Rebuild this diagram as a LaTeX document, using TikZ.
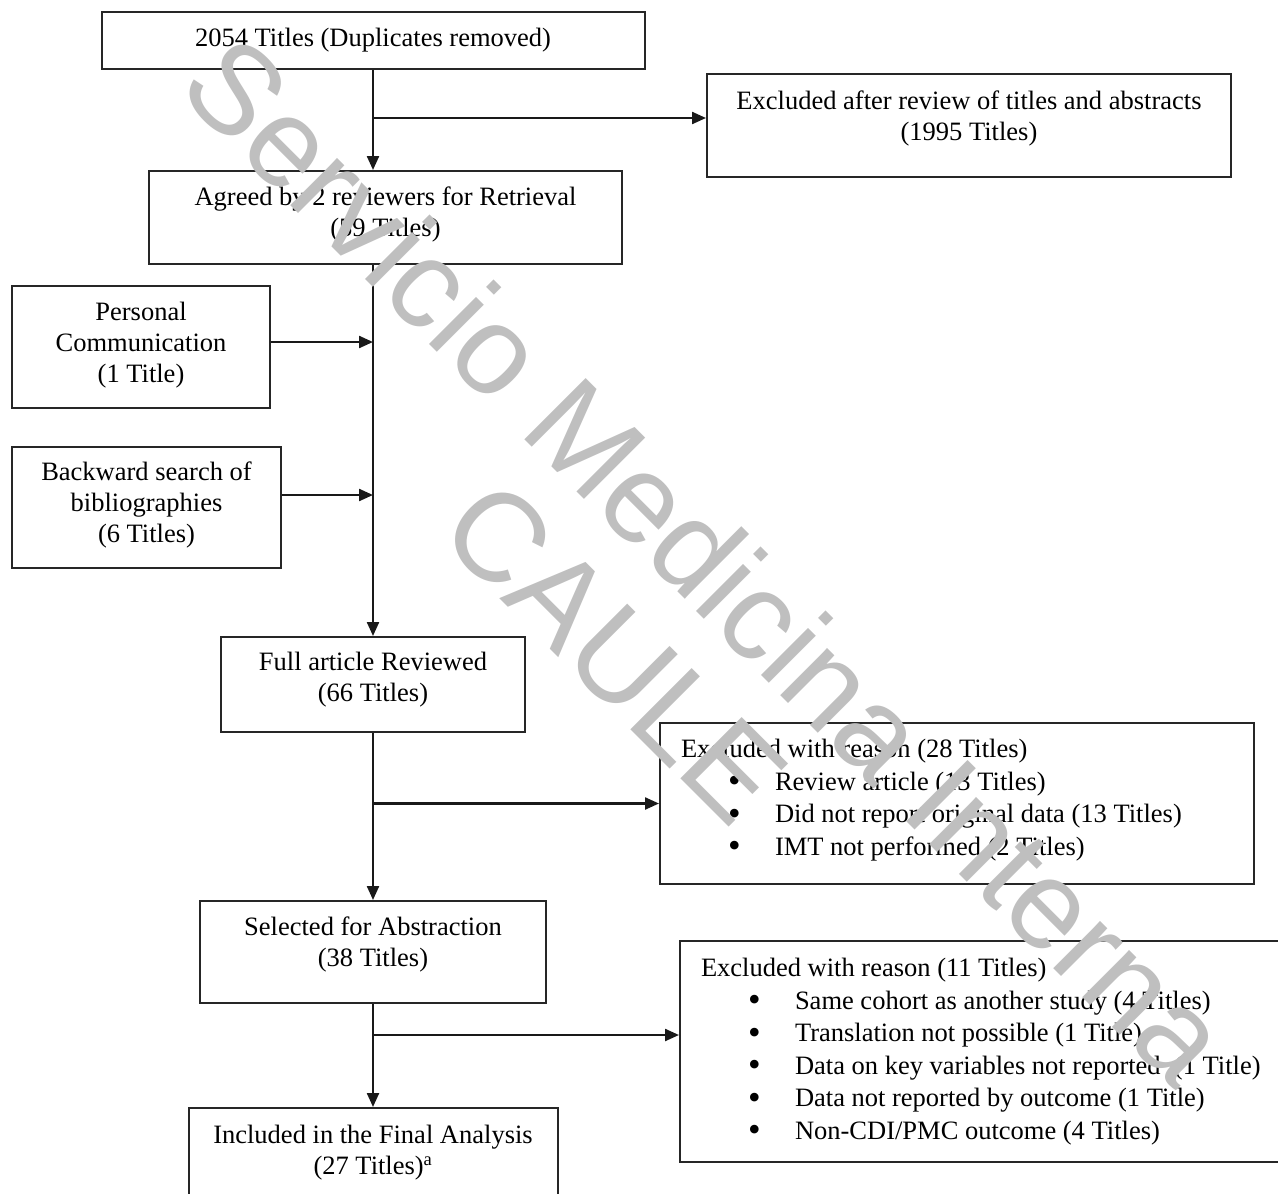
\documentclass[tikz,border=0pt]{standalone}
\usepackage{fontspec}
\setmainfont{Liberation Serif}
\newfontfamily\wmsans{Liberation Sans}
\usetikzlibrary{arrows.meta,positioning}
\tikzset{
  stagebox/.style={draw=black!85, line width=2pt, align=center, inner sep=0pt,
                   font=\fontsize{26.5}{31}\selectfont},
  listbox/.style={draw=black!85, line width=2pt, align=flush left, inner xsep=21pt, inner ysep=0pt,
                  font=\fontsize{26.5}{32.5}\selectfont},
  lift/.style={text height=#1, text depth=0pt},
  listlift/.style={text height=0pt, text depth=#1},
  flowarr/.style={-{Triangle[length=14pt,width=12pt]}, line width=2.3pt, black!90},
  stamp/.style={rotate=-45, align=center, text=gray!50,
                font=\wmsans\fontsize{126}{130}\selectfont},
}
\newcommand\reasonitem[1]{\\\hspace*{47pt}\makebox[47pt][l]{\raisebox{-2.5pt}{\fontsize{36}{30}\selectfont\textbullet}}#1}

\begin{document}
\begin{tikzpicture}[x=1pt,y=-1pt]
  \clip (0,0) rectangle (1278,1194);
  % main column
  \node[stagebox, minimum width=543pt, minimum height=57pt] (titles) at (373,40.5)
    {2054 Titles (Duplicates removed)};
  \node[stagebox, lift=30pt, minimum width=524pt, minimum height=103pt] (screenout) at (969,125.5)
    {Excluded after review of titles and abstracts\\(1995 Titles)};
  \node[stagebox, lift=38pt, minimum width=473pt, minimum height=93pt] (agreed) at (385.5,217.5)
    {Agreed by 2 reviewers for Retrieval\\(59 Titles)};
  \node[stagebox, lift=71pt, minimum width=258pt, minimum height=122pt] (personal) at (141,347)
    {Personal\\Communication\\(1 Title)};
  \node[stagebox, lift=70pt, minimum width=269pt, minimum height=121pt] (backward) at (146.5,507.5)
    {Backward search of\\bibliographies\\(6 Titles)};
  \node[stagebox, lift=34pt, minimum width=304pt, minimum height=95pt] (fullrev) at (373,684.5)
    {Full article Reviewed\\(66 Titles)};
  \node[stagebox, lift=29pt, minimum width=346pt, minimum height=102pt] (selected) at (373,952)
    {Selected for Abstraction\\(38 Titles)};
  \node[stagebox, lift=29pt, minimum width=369pt, minimum height=104pt] (included) at (373,1160)
    {Included in the Final Analysis\\(27 Titles)\textsuperscript{a}};

  % exclusion lists
  \node[listbox, listlift=92pt, text width=552pt, minimum height=161pt] (fullout) at (957,803.5)
    {Excluded with reason (28 Titles)
     \reasonitem{Review article (13 Titles)}
     \reasonitem{Did not report original data (13 Titles)}
     \reasonitem{IMT not performed (2 Titles)}};
  \node[listbox, listlift=150pt, text width=578pt, minimum height=221pt] (absout) at (990,1051.5)
    {Excluded with reason (11 Titles)
     \reasonitem{Same cohort as another study (4 Titles)}
     \reasonitem{Translation not possible (1 Title)}
     \reasonitem{Data on key variables not reported\ \ (1 Title)}
     \reasonitem{Data not reported by outcome (1 Title)}
     \reasonitem{Non-CDI/PMC outcome (4 Titles)}};

  % connectors
  \coordinate (split1) at (373,118);
  \coordinate (split3) at (373,1035);
  \draw[flowarr] (titles.south) -- (titles.south |- agreed.north);
  \draw[flowarr] (split1) -- (split1 -| screenout.west);
  \draw[flowarr] (fullrev.north |- agreed.south) -- (fullrev.north);
  \draw[flowarr] ([yshift=5pt]personal.east) -- ([yshift=5pt]personal.east -| fullrev.north);
  \draw[flowarr] ([yshift=12.5pt]backward.east) -- ([yshift=12.5pt]backward.east -| fullrev.north);
  \draw[flowarr] (fullrev.south) -- (selected.north);
  \draw[flowarr] (fullout.west -| fullrev.south) -- (fullout.west);
  \draw[flowarr] (selected.south) -- (included.north);
  \draw[flowarr] (split3) -- (split3 -| absout.west);

  % watermark
  \node[stamp] (wmark) at (662,605) {Servicio Medicina Interna\\CAULE};
\end{tikzpicture}
\end{document}
